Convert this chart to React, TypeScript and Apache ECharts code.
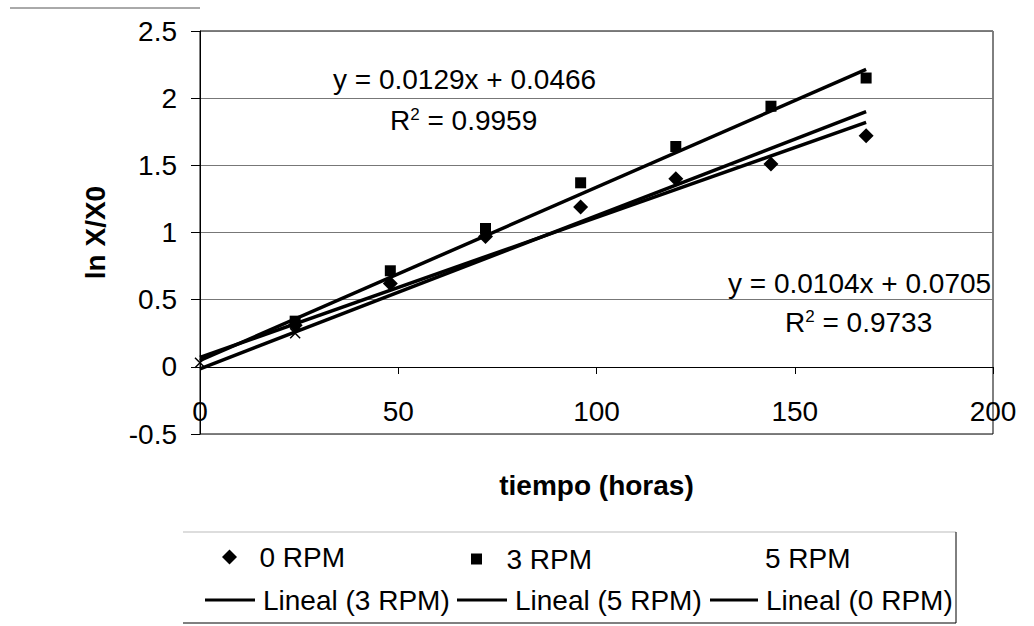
import React, { useEffect, useRef } from 'react';
import * as echarts from 'echarts';

const FONT = '"Liberation Sans", Arial, Helvetica, sans-serif';

// tiempo (horas)
const hours = [24, 48, 72, 96, 120, 144, 168];
// ln X/X0 for 0 RPM (diamonds)
const lnRpm0 = [0.31, 0.62, 0.97, 1.19, 1.40, 1.51, 1.72];
// ln X/X0 for 3 RPM (squares)
const lnRpm3 = [0.34, 0.715, 1.03, 1.37, 1.64, 1.94, 2.15];
// 5 RPM (only visible marks)
const hours5 = [0, 24];
const lnRpm5 = [0.03, 0.25];

// linear trend lines (end points)
const trendHours = [0, 168];
const trend3 = [0.047, 2.214];
const trend5 = [-0.015, 1.9];
const trend0 = [0.07, 1.82];

const eq3 = ['y = 0.0129x + 0.0466', 'R{s|2} = 0.9959'];
const eq0 = ['y = 0.0104x + 0.0705', 'R{s|2} = 0.9733'];

const pairs = (xs: number[], ys: number[]) => xs.map((x, i) => [x, ys[i]]);

const DIAMOND = 'path://M5,0L10,5L5,10L0,5Z';
const SQUARE = 'path://M0,0H10V10H0Z';
const CROSS = 'path://M0,0L10,10M10,0L0,10';

const legendItem = (name: string, icon: string, left: number, top: number, w: number, h: number, padLeft = 0) => ({
  data: [{ name, icon }],
  left,
  top,
  padding: 0,
  itemWidth: w,
  itemHeight: h,
  itemGap: 0,
  selectedMode: false,
  itemStyle: { opacity: 1 },
  textStyle: { fontSize: 28, fontFamily: FONT, color: '#000', padding: [0, 0, 0, padLeft] },
});

export default function App() {
  const ref = useRef<HTMLDivElement>(null);
  useEffect(() => {
    document.body.style.margin = '0';
    const chart = echarts.init(ref.current!, null, { renderer: 'svg' });
    const text = (s: string, x: number, y: number) => ({
      type: 'text',
      x,
      y,
      style: {
        text: s,
        fontSize: 28,
        fontFamily: FONT,
        fill: '#000',
        align: 'left',
        verticalAlign: 'middle',
        textAlign: 'left',
        textVerticalAlign: 'middle',
        rich: { s: { fontSize: 17, fontFamily: FONT, verticalAlign: 'top', fill: '#000' } },
      },
      z: 100,
    });
    chart.setOption({
      animation: false,
      backgroundColor: '#fff',
      grid: { left: 200, top: 31, width: 793, height: 403, show: true, borderColor: '#000', borderWidth: 1, backgroundColor: 'transparent' },
      xAxis: {
        type: 'value',
        min: 0,
        max: 200,
        interval: 50,
        offset: -67,
        name: 'tiempo (horas)',
        nameLocation: 'middle',
        nameGap: 104,
        nameTextStyle: { fontSize: 28, fontWeight: 'bold', fontFamily: FONT, color: '#000' },
        axisLine: { show: true, onZero: false, lineStyle: { color: '#000', width: 1 } },
        axisTick: { show: true, length: 7, lineStyle: { color: '#000' } },
        axisLabel: { fontSize: 28, fontFamily: FONT, color: '#000', margin: 30 },
        splitLine: { show: false },
      },
      yAxis: {
        type: 'value',
        min: -0.5,
        max: 2.5,
        interval: 0.5,
        name: 'ln X/X0',
        nameLocation: 'middle',
        nameGap: 91,
        nameTextStyle: { fontSize: 28, fontWeight: 'bold', fontFamily: FONT, color: '#000' },
        axisLine: { show: true, onZero: false, lineStyle: { color: '#000', width: 1 } },
        axisTick: { show: true, length: 9, lineStyle: { color: '#000' } },
        axisLabel: { fontSize: 28, fontFamily: FONT, color: '#000', margin: 23 },
        splitLine: { show: true, lineStyle: { color: '#777', width: 1 } },
      },
      legend: [
        legendItem('0 RPM', DIAMOND, 222, 543, 50, 15),
        legendItem('3 RPM', SQUARE, 471, 545, 50, 11),
        legendItem('5 RPM', 'none', 710, 544, 50, 11),
        legendItem('Lineal (3 RPM)', 'rect', 205, 586, 50, 3, 3),
        legendItem('Lineal (5 RPM)', 'rect', 457, 586, 50, 3, 3),
        legendItem('Lineal (0 RPM)', 'rect', 710, 586, 48, 3, 3),
      ],
      series: [
        {
          name: '0 RPM',
          type: 'scatter',
          symbol: 'diamond',
          symbolSize: 15,
          itemStyle: { color: '#000', opacity: 1 },
          data: pairs(hours, lnRpm0),
          z: 2,
        },
        {
          name: '3 RPM',
          type: 'scatter',
          symbol: 'rect',
          symbolSize: 11,
          itemStyle: { color: '#000', opacity: 1 },
          data: pairs(hours, lnRpm3),
          z: 2,
        },
        {
          name: '5 RPM',
          type: 'scatter',
          symbol: CROSS,
          symbolSize: 10,
          itemStyle: { color: 'rgba(0,0,0,0)', borderColor: '#000', borderWidth: 1.5, opacity: 1 },
          data: pairs(hours5, lnRpm5),
          z: 2,
        },
        {
          name: 'Lineal (3 RPM)',
          type: 'line',
          showSymbol: false,
          symbol: 'none',
          lineStyle: { color: '#000', width: 3.5 },
          itemStyle: { color: '#000' },
          data: pairs(trendHours, trend3),
          z: 3,
        },
        {
          name: 'Lineal (5 RPM)',
          type: 'line',
          showSymbol: false,
          symbol: 'none',
          lineStyle: { color: '#000', width: 3.5 },
          itemStyle: { color: '#000' },
          data: pairs(trendHours, trend5),
          z: 3,
        },
        {
          name: 'Lineal (0 RPM)',
          type: 'line',
          showSymbol: false,
          symbol: 'none',
          lineStyle: { color: '#000', width: 3.5 },
          itemStyle: { color: '#000' },
          data: pairs(trendHours, trend0),
          z: 3,
        },
      ],
      graphic: [
        text(eq3[0], 333, 79),
        text(eq3[1], 390, 120),
        text(eq0[0], 728, 283),
        text(eq0[1], 785, 322),
        { type: 'line', shape: { x1: 10, y1: 8, x2: 200, y2: 8 }, style: { stroke: '#555', lineWidth: 1 } },
        { type: 'line', shape: { x1: 183, y1: 532, x2: 956, y2: 532 }, style: { stroke: '#bbb', lineWidth: 1 } },
        { type: 'line', shape: { x1: 183, y1: 623, x2: 956, y2: 623 }, style: { stroke: '#000', lineWidth: 1 } },
        { type: 'line', shape: { x1: 956, y1: 532, x2: 956, y2: 623 }, style: { stroke: '#000', lineWidth: 1 } },
      ],
    });
    return () => chart.dispose();
  }, []);
  return <div ref={ref} style={{ width: 1034, height: 626 }} />;
}
